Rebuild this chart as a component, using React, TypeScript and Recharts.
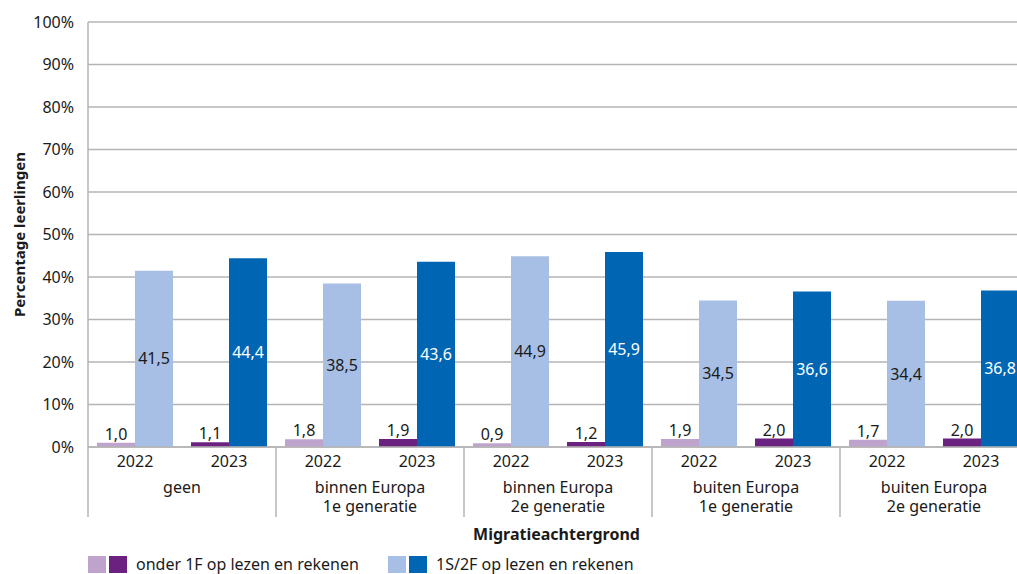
import React from 'react';
import { Bar, BarChart, CartesianGrid, Cell, LabelList, XAxis, YAxis } from 'recharts';

// Leerlingen onder 1F en op 1S/2F, naar migratieachtergrond en jaar.
const groepen = [
  ['geen'],
  ['binnen Europa', '1e generatie'],
  ['binnen Europa', '2e generatie'],
  ['buiten Europa', '1e generatie'],
  ['buiten Europa', '2e generatie'],
];
const jaren = ['2022', '2023'];
const onder1F = [1.0, 1.1, 1.8, 1.9, 0.9, 1.2, 1.9, 2.0, 1.7, 2.0];
const niveau1S2F = [41.5, 44.4, 38.5, 43.6, 44.9, 45.9, 34.5, 36.6, 34.4, 36.8];
const yTicks = [0, 10, 20, 30, 40, 50, 60, 70, 80, 90, 100];

const kleurOnder = ['#bea3cd', '#6b2180'];
const kleurNiveau = ['#a7bfe4', '#0066b4'];
const GRIJS = '#b5b5b5';
const TEKST = '#1a1a1a';

const BREEDTE = 1028;
const HOOGTE = 574;
const LINKS = 88;
const BOVEN = 22;
const ONDER = 447;
const CAT = (BREEDTE - LINKS) / 10;

const data = onder1F.map((waarde, i) => ({
  id: i,
  jaar: jaren[i % 2],
  groep: groepen[Math.floor(i / 2)],
  onder: waarde,
  niveau: niveau1S2F[i],
}));

const komma = (v: number) => v.toFixed(1).replace('.', ',');

function JaarTick(props: any) {
  const { x, payload } = props;
  const rij = data[payload.value];
  if (!rij) return null;
  const eerste = rij.jaar === jaren[0];
  return (
    <g>
      <text x={x} y={467} textAnchor="middle" fill={TEKST} fontSize={16}>
        {rij.jaar}
      </text>
      {eerste && (
        <>
          <line x1={x - CAT / 2} x2={x - CAT / 2} y1={ONDER} y2={517} stroke={GRIJS} strokeWidth={1.5} />
          <text x={x + CAT / 2} y={493} textAnchor="middle" fill={TEKST} fontSize={16}>
            {rij.groep.map((regel, k) => (
              <tspan key={k} x={x + CAT / 2} dy={k === 0 ? 0 : 19}>
                {regel}
              </tspan>
            ))}
          </text>
        </>
      )}
    </g>
  );
}

function NiveauLabel(props: any) {
  const { x, y, width, height, value, index } = props;
  return (
    <text
      x={x + width / 2}
      y={y + height / 2}
      dy="0.35em"
      textAnchor="middle"
      fill={index % 2 === 1 ? '#ffffff' : TEKST}
      fontSize={16}
    >
      {komma(value)}
    </text>
  );
}

function AsTitel(props: any) {
  const { viewBox } = props;
  return (
    <text
      x={viewBox.x + (1017 - LINKS) / 2 + 4}
      y={540}
      textAnchor="middle"
      fill={TEKST}
      fontSize={16}
      fontWeight="bold"
    >
      Migratieachtergrond
    </text>
  );
}

function Blokje({ kleur }: { kleur: string }) {
  return <span style={{ display: 'inline-block', width: 18, height: 17, background: kleur, marginRight: 3 }} />;
}

export default function App() {
  return (
    <div
      style={{
        position: 'fixed',
        left: 0,
        top: 0,
        width: 1017,
        height: HOOGTE,
        overflow: 'hidden',
        background: '#fff',
        fontFamily: '"Noto Sans", sans-serif',
      }}
    >
      <BarChart
        width={BREEDTE}
        height={HOOGTE}
        data={data}
        margin={{ top: BOVEN, right: 0, bottom: 0, left: 0 }}
        barSize={38}
        barGap={0}
      >
        <CartesianGrid vertical={false} stroke={GRIJS} strokeWidth={1.5} />
        <XAxis
          dataKey="id"
          type="category"
          height={HOOGTE - ONDER}
          interval={0}
          axisLine={{ stroke: GRIJS, strokeWidth: 1.5 }}
          tickLine={false}
          tick={<JaarTick />}
          label={<AsTitel />}
        />
        <YAxis
          width={LINKS}
          domain={[0, 100]}
          ticks={yTicks}
          interval={0}
          tickFormatter={(v: number) => `${v}%`}
          axisLine={{ stroke: GRIJS, strokeWidth: 1.5 }}
          tickLine={false}
          tickMargin={8}
          tick={{ fill: TEKST, fontSize: 16 }}
          label={{
            value: 'Percentage leerlingen',
            angle: -90,
            position: 'center',
            dx: -24,
            fill: TEKST,
            fontSize: 15,
            fontWeight: 'bold',
          }}
        />
        <Bar dataKey="onder" isAnimationActive={false}>
          {data.map((rij) => (
            <Cell key={rij.id} fill={kleurOnder[rij.id % 2]} />
          ))}
          <LabelList dataKey="onder" position="top" offset={3} formatter={(v: any) => komma(Number(v))} fill={TEKST} fontSize={16} />
        </Bar>
        <Bar dataKey="niveau" isAnimationActive={false}>
          {data.map((rij) => (
            <Cell key={rij.id} fill={kleurNiveau[rij.id % 2]} />
          ))}
          <LabelList dataKey="niveau" content={<NiveauLabel />} />
        </Bar>
      </BarChart>
      <div
        style={{
          position: 'absolute',
          left: 88,
          top: 555,
          display: 'flex',
          alignItems: 'center',
          fontSize: 16,
          color: TEKST,
          lineHeight: '18px',
          whiteSpace: 'nowrap',
        }}
      >
        <Blokje kleur={kleurOnder[0]} />
        <Blokje kleur={kleurOnder[1]} />
        <span style={{ marginLeft: 6, width: 252 }}>onder 1F op lezen en rekenen</span>
        <Blokje kleur={kleurNiveau[0]} />
        <Blokje kleur={kleurNiveau[1]} />
        <span style={{ marginLeft: 6 }}>1S/2F op lezen en rekenen</span>
      </div>
    </div>
  );
}
